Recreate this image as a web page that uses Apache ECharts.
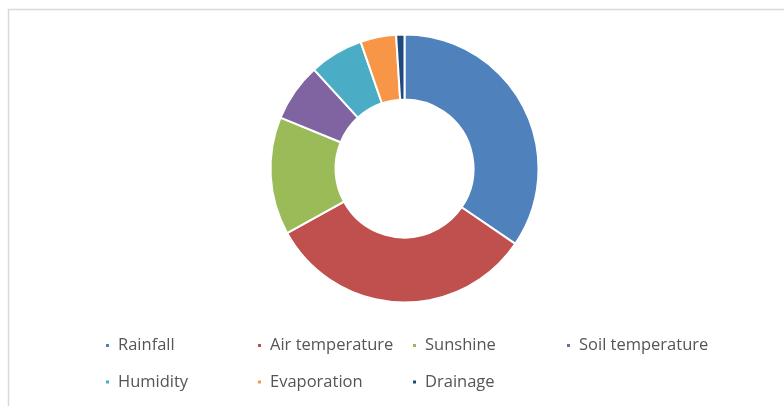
<!DOCTYPE html>
<html>
<head>
<meta charset="utf-8">
<script src="https://cdn.jsdelivr.net/npm/echarts@6/dist/echarts.min.js"></script>
<style>
html,body{margin:0;padding:0;background:#fff;}
#chart{width:784px;height:406px;}
</style>
</head>
<body>
<div id="chart"></div>
<script>
const categories = ["Rainfall", "Air temperature", "Sunshine", "Soil temperature", "Humidity", "Evaporation", "Drainage"];
const values = [34.5, 32.5, 14.2, 7.0, 6.5, 4.3, 1.0];
const colors = ["#4F81BD", "#C0504D", "#9BBB59", "#8064A2", "#4BACC6", "#F79646", "#1F497D"];

const legendPos = [
  [104, 337], [256, 337], [411, 337], [565, 337],
  [104, 373.5], [256, 373.5], [411, 373.5]
];

const chart = echarts.init(document.getElementById('chart'), null, {renderer: 'canvas'});
const legends = categories.map((c, i) => ({
  data: [c],
  left: legendPos[i][0],
  top: legendPos[i][1],
  orient: 'horizontal',
  icon: 'rect',
  itemWidth: 5,
  itemHeight: 5,
  padding: 0,
  selectedMode: false,
  textStyle: {
    fontFamily: 'Open Sans',
    fontSize: 16.5,
    color: '#555555',
    lineHeight: 16,
    padding: [0, 0, 0, 3]
  }
}));

chart.setOption({
  animation: false,
  color: colors,
  graphic: [{
    type: 'rect',
    shape: {x: 8.5, y: 9.5, width: 820, height: 420},
    style: {fill: 'none', stroke: '#d9d9d9', lineWidth: 1.5},
    silent: true
  }],
  legend: legends,
  series: [{
    type: 'pie',
    center: [404.5, 168.5],
    radius: [69, 134],
    startAngle: 90,
    clockwise: true,
    label: {show: false},
    labelLine: {show: false},
    itemStyle: {borderColor: '#fff', borderWidth: 2},
    emphasis: {disabled: true},
    data: categories.map((c, i) => ({name: c, value: values[i]}))
  }]
});
</script>
</body>
</html>
